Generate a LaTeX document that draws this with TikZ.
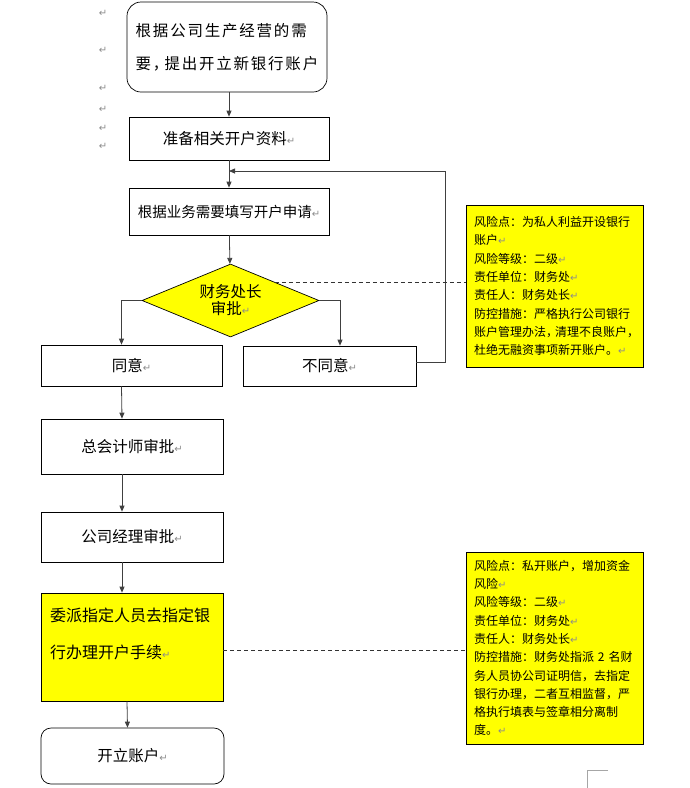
\documentclass[tikz,border=0pt]{standalone}
\usepackage{fontspec}
\setmainfont{Noto Sans CJK SC}
\newfontfamily\markfont{DejaVu Sans}
\newfontfamily\widefont[LetterSpace=11.5]{Noto Sans CJK SC}
\usetikzlibrary{shapes.geometric,arrows.meta}
\definecolor{riskyellow}{RGB}{255,255,0}
\newcommand{\retmark}{{\markfont\fontsize{10}{10}\selectfont\color{black!45}↵}}

\begin{document}
\begin{tikzpicture}[x=1pt, y=-1pt,
  procbox/.style={draw, line width=0.7pt, inner sep=0pt, font=\fontsize{15.5}{18}\selectfont},
  startbox/.style={procbox, rounded corners=14pt},
  yellowbox/.style={draw, line width=0.7pt, fill=riskyellow, inner sep=0pt},
  riskbox/.style={yellowbox, inner sep=8pt, text width=161pt, align=left, minimum width=177pt, font=\fontsize{12}{18.3}\selectfont},
  decide/.style={diamond, draw, line width=0.7pt, fill=riskyellow, inner sep=0pt, shape aspect=2.4, align=center, font=\fontsize{15.5}{17}\selectfont},
  arr/.style={-{Triangle[length=6pt,width=5pt]}, line width=0.8pt, draw=black!75},
  link/.style={dash pattern=on 4pt off 3pt, line width=0.8pt, draw=black!80}]
  \useasboundingbox[fill=white] (0,0) rectangle (689,788);

  % main flow
  \node[startbox, minimum width=200pt, minimum height=90pt, align=left, font=\widefont\fontsize{15.5}{33}\selectfont] (start) at (227,47) {根据公司生产经营的需\\要，\kern-4pt提出开立新银行账户};
  \node[procbox, minimum width=200pt, minimum height=43pt] (prep) at (229,138.5) {准备相关开户资料\retmark};
  \node[procbox, minimum width=200pt, minimum height=47pt, font=\fontsize{14.5}{18}\selectfont] (fill) at (229,211.5) {根据业务需要填写开户申请\retmark};
  \node[decide, minimum width=177pt, minimum height=73pt] (cfo) at (230.5,300.5) {财务处长\\审批\retmark};
  \node[procbox, minimum width=181pt, minimum height=41pt] (agree) at (131.5,365.5) {同意\retmark};
  \node[procbox, minimum width=173pt, minimum height=40pt] (refuse) at (329.5,366) {不同意\retmark};
  \node[procbox, minimum width=182pt, minimum height=55pt] (chief) at (132,446.5) {总会计师审批\retmark};
  \node[procbox, minimum width=182pt, minimum height=50pt] (mgr) at (132,537) {公司经理审批\retmark};
  \node[yellowbox, minimum width=182pt, minimum height=108pt] (assign) at (132,647) {};
  \node[anchor=west, inner sep=0pt, align=left, font=\fontsize{16}{37}\selectfont] (assigntext) at (50,633.5) {委派指定人员去指定银\\行办理开户手续\retmark};
  \node[startbox, rounded corners=10pt, minimum width=183pt, minimum height=56pt] (open) at (132.5,756) {开立账户\retmark};

  % risk notes
  \node[riskbox, minimum height=162pt] (risk1) at (554.5,286) {风险点：为私人利益开设银行\\账户\retmark\\风险等级：二级\retmark\\责任单位：财务处\retmark\\责任人：财务处长\retmark\\防控措施：严格执行公司银行\\账户管理办法，\kern-3pt清理不良账户，\\杜绝无融资事项新开账户。\retmark};
  \node[riskbox, minimum height=192pt] (risk2) at (554.5,648) {风险点：私开账户，增加资金\\风险\retmark\\风险等级：二级\retmark\\责任单位：财务处\retmark\\责任人：财务处长\retmark\\防控措施：财务处指派 2 名财\\务人员协公司证明信，去指定\\银行办理，二者互相监督，严\\格执行填表与签章相分离制\\度。\retmark};

  % connectors
  \coordinate (back) at (229,171);
  \draw[arr] (start.south -| prep.north) -- (prep.north);
  \draw[arr] (prep) -- (fill);
  \draw[arr] (fill) -- (cfo);
  \draw[arr] ([yshift=4pt]refuse.east) -- ++(29,0) |- (back);
  \draw[arr] (cfo.west) -| ([xshift=-10pt]agree.north);
  \draw[arr] (cfo.east) -| ([xshift=10.5pt]refuse.north);
  \draw[arr] ([xshift=-10pt]agree.south) -- ([xshift=-10pt]chief.north);
  \draw[arr] ([xshift=-10pt]chief.south) -- ([xshift=-10pt]mgr.north);
  \draw[arr] ([xshift=-10pt]mgr.south) -- ([xshift=-10pt]assign.north);
  \draw[arr] ([xshift=-5pt]assign.south) -- ([xshift=-5pt]open.north);
  \draw[link] (cfo.north east) -- (cfo.north east -| risk1.west);
  \draw[link] ([yshift=-3pt]assign.east) -- ([yshift=-3pt]assign.east -| risk2.west);

  % stray paragraph marks and corner mark
  \foreach \y [count=\i] in {13,50,88,109,128,146}
    \node[inner sep=0pt] (mark\i) at (103,\y) {\retmark};
  \draw[black!35, line width=1pt] (608,770) -- (587,770) -- (587,788);
\end{tikzpicture}
\end{document}
